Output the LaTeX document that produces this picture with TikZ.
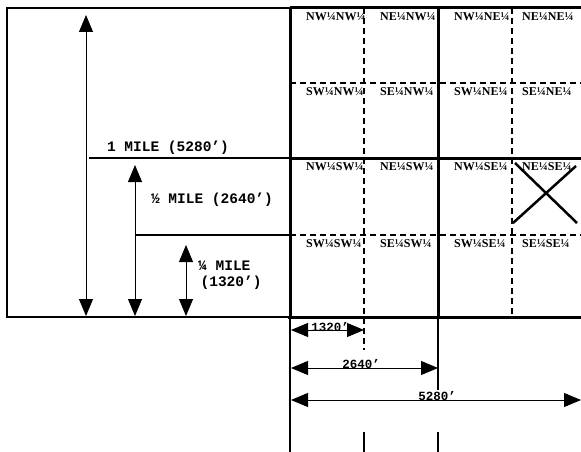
\documentclass[tikz,border=0pt]{standalone}
\usepackage{fontspec}
\setmainfont{Liberation Serif}
\newfontfamily\milefont{Liberation Mono}
\usetikzlibrary{arrows.meta}
\tikzset{
  cell/.style={anchor=north west,inner sep=0pt,font=\fontsize{12}{12}\selectfont\bfseries},
  milelabel/.style={inner sep=0pt,font=\milefont\bfseries\fontsize{14.5}{16}\selectfont},
  footlabel/.style={anchor=base,inner sep=0pt,font=\milefont\bfseries\fontsize{12.5}{14}\selectfont},
  quarterline/.style={line width=1.3pt,dash pattern=on 6pt off 4pt},
  sectionline/.style={line width=3pt},
}
\begin{document}
\begin{tikzpicture}[x=1pt,y=-1pt,>={Triangle[length=17pt,width=14pt]}]
\useasboundingbox (0,0) rectangle (581,452);
% left box
\draw[line width=1.8pt] (290,8) -- (7,8) -- (7,317) -- (290,317);
\draw[line width=1.5pt] (89,158) -- (290,158);   % 1 mile
\draw[line width=1.5pt] (136,235) -- (290,235);  % 1/2 mile
% vertical distances
\draw[<->,line width=0.9pt] (86,15) -- (86,316);
\draw[<->,line width=0.9pt] (135,165) -- (135,316);
\draw[<->,line width=0.9pt] (186,245) -- (186,316);
\node[milelabel] (one) at (168,148) {1 MILE (5280’)};
\node[milelabel] (half) at (212,200) {½ MILE (2640’)};
\node[milelabel,anchor=west,align=left] (quarter) at (198,275) {¼ MILE\\\,(1320’)};
% quarter-quarter lines
\draw[quarterline] (364,8) -- (364,350);
\draw[quarterline] (512,8) -- (512,317);
\draw[quarterline] (290,83) -- (581,83);
\draw[quarterline] (290,235) -- (581,235);
% section and quarter lines
\draw[sectionline] (290,8) -- (581,8);
\draw[sectionline] (290,158) -- (581,158);
\draw[sectionline] (288,317) -- (581,317);
\draw[sectionline] (290,8) -- (290,317);
\draw[sectionline] (438,8) -- (438,317);
% cell names
\foreach \y/\big/\sm in {8/N/N,83/N/S,158/S/N,235/S/S}
  \foreach \x/\bigx/\smx in {306/W/W,380/W/E,454/E/W,522/E/E}
    \node[cell] (c\y\x) at (\x,\y+4) {\sm\smx{}¼\big\bigx{}¼};
% marked tract
\draw[line width=2.5pt] (515,163) -- (577,223) (513,223) -- (576,166);
% horizontal distances
\draw[line width=1.1pt] (290,317) -- (290,452);
\draw[line width=1.1pt] (438,317) -- (438,390);
\draw[line width=1.1pt] (364,432) -- (364,452);
\draw[line width=1.1pt] (438,432) -- (438,452);
\draw[<->,line width=0.9pt] (291,330) -- (364,330);
\draw[<->,line width=0.9pt] (291,368) -- (438,368);
\draw[<->,line width=0.9pt] (291,400) -- (581,400);
\node[footlabel] (d1) at (330,331) {1320’};
\node[footlabel] (d2) at (361,368) {2640’};
\node[footlabel] (d3) at (437,400) {5280’};
\end{tikzpicture}
\end{document}
